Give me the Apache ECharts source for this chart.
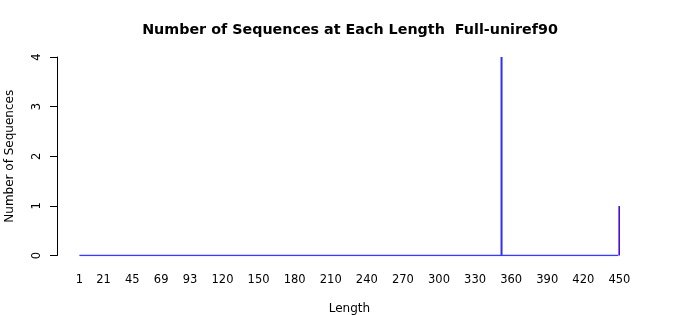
<!DOCTYPE html>
<html>
<head>
<meta charset="utf-8">
<script src="https://cdn.jsdelivr.net/npm/echarts@6/dist/echarts.min.js"></script>
<style>html,body{margin:0;padding:0;background:#fff}#c{width:700px;height:315px}</style>
</head>
<body>
<div id="c"></div>
<script>
// ---- data ----
const lengthMin = 1;
const lengthMax = 450;
const seqLengths = [352, 450];
const seqCounts = [4, 1];
const barColors = ['#2f2ff2', '#4a0cd8'];
const xTickLabels = [1, 21, 45, 69, 93, 120, 150, 180, 210, 240, 270, 300, 330, 360, 390, 420, 450];
const yTicks = [0, 1, 2, 3, 4];
const titleText = 'Number of Sequences at Each Length  Full-uniref90';
const xTitle = 'Length';
const yTitle = 'Number of Sequences';

// ---- build ----
const categories = [];
for (let L = lengthMin; L <= lengthMax; L++) categories.push(String(L));
const barData = categories.map(c => {
  const i = seqLengths.indexOf(Number(c));
  return i >= 0 ? { value: seqCounts[i], itemStyle: { color: barColors[i] } } : null;
});
const zeroData = categories.map(c => {
  const i = seqLengths.indexOf(Number(c));
  return i >= 0 ? null : 0;
});
const tickSet = new Set(xTickLabels.map(String));

const chart = echarts.init(document.getElementById('c'), null, { renderer: 'canvas' });
chart.setOption({
  animation: false,
  backgroundColor: '#ffffff',
  textStyle: { fontFamily: 'DejaVu Sans' },
  title: {
    text: titleText,
    left: 'center',
    top: 18,
    textStyle: { fontFamily: 'DejaVu Sans', fontSize: 14.3, fontWeight: 'bold', color: '#000' }
  },
  grid: { left: 78.8, width: 541.2, top: 57, bottom: 59.5, containLabel: false, outerBoundsMode: 'none' },
  xAxis: {
    type: 'category',
    data: categories,
    boundaryGap: true,
    axisLine: { show: false },
    axisTick: { show: false },
    splitLine: { show: false },
    axisLabel: {
      interval: (idx, val) => tickSet.has(val),
      margin: 18.5,
      fontSize: 11.5,
      color: '#000',
      fontFamily: 'DejaVu Sans'
    },
    name: xTitle,
    nameLocation: 'middle',
    nameGap: 47,
    nameTextStyle: { fontSize: 12, color: '#000', fontFamily: 'DejaVu Sans' }
  },
  yAxis: {
    type: 'value',
    min: yTicks[0],
    max: yTicks[yTicks.length - 1],
    interval: 1,
    offset: 21.8,
    axisLine: { show: true, lineStyle: { color: '#000', width: 1 } },
    axisTick: { show: true, length: 7, lineStyle: { color: '#000' } },
    splitLine: { show: false },
    axisLabel: {
      rotate: 90,
      margin: 14,
      fontSize: 11.5,
      color: '#000',
      fontFamily: 'DejaVu Sans'
    },
    name: yTitle,
    nameLocation: 'middle',
    nameGap: 41,
    nameRotate: 90,
    nameTextStyle: { fontSize: 12, color: '#000', fontFamily: 'DejaVu Sans' }
  },
  series: [
    {
      type: 'line',
      data: zeroData,
      connectNulls: true,
      symbol: 'none',
      showSymbol: false,
      color: '#3a3aff',
      itemStyle: { color: '#3a3aff' },
      lineStyle: { color: '#3a3aff', width: 1.5, opacity: 1 },
      emphasis: { disabled: true },
      silent: true,
      z: 5
    },
    {
      type: 'bar',
      data: barData,
      barWidth: 2,
      barGap: '-100%',
      z: 2
    }
  ]
});
</script>
</body>
</html>
